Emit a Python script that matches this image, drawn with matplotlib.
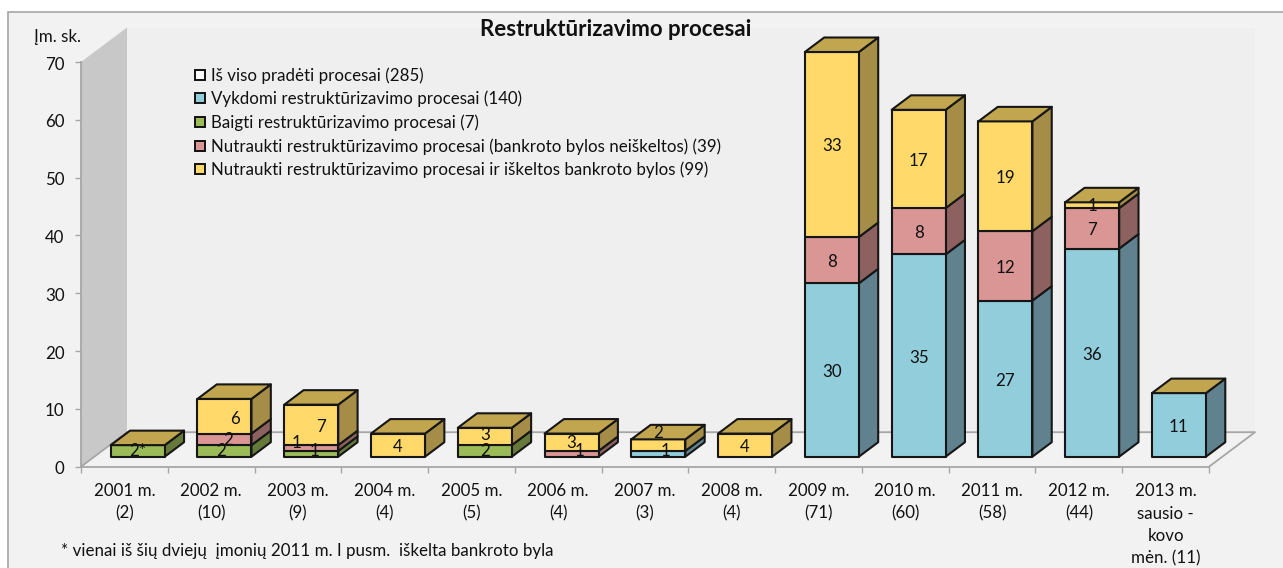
# -*- coding: utf-8 -*-
import matplotlib

matplotlib.use("Agg")
import matplotlib.pyplot as plt
from matplotlib.lines import Line2D
from matplotlib.patches import Polygon, Rectangle
from matplotlib.transforms import ScaledTranslation

YEAR_LABELS = [
    "2001 m.\n(2)", "2002 m.\n(10)", "2003 m.\n(9)", "2004 m.\n(4)", "2005 m.\n(5)",
    "2006 m.\n(4)", "2007 m.\n(3)", "2008 m.\n(4)", "2009 m.\n(71)", "2010 m.\n(60)",
    "2011 m.\n(58)", "2012 m.\n(44)", "2013 m.\nsausio -\nkovo\nmėn. (11)",
]
ONGOING = [0, 0, 0, 0, 0, 0, 1, 0, 30, 35, 27, 36, 11]
FINISHED = [2, 2, 1, 0, 2, 0, 0, 0, 0, 0, 0, 0, 0]
STOPPED = [0, 2, 1, 0, 0, 1, 0, 0, 8, 8, 12, 7, 0]
BANKRUPT = [0, 6, 7, 4, 3, 3, 2, 4, 33, 17, 19, 1, 0]
LEGEND_LABELS = [
    "Iš viso pradėti procesai (285)",
    "Vykdomi restruktūrizavimo procesai (140)",
    "Baigti restruktūrizavimo procesai (7)",
    "Nutraukti restruktūrizavimo procesai (bankroto bylos neiškeltos) (39)",
    "Nutraukti restruktūrizavimo procesai ir iškeltos bankroto bylos (99)",
]

SERIES = [ONGOING, FINISHED, STOPPED, BANKRUPT]
FRONT_COLORS = ["#92CDDC", "#9BBB59", "#D99694", "#FFD96A"]
SIDE_COLORS = ["#5F828E", "#64793A", "#8D6160", "#A58D47"]
LEGEND_COLORS = ["#FFFFFF"] + FRONT_COLORS
TOP_COLOR = "#C1A64F"
EDGE = "#161616"
AXIS_GRAY = "#A6A6A6"
FONT_SIZE = 12.2

W, H = 1283, 568
LEFT, RIGHT, TOP, BOTTOM = 81, 1209, 62, 466.7
Y_MAX = 70
CAT_PX = (RIGHT - LEFT) / len(YEAR_LABELS)
PX_Y = (BOTTOM - TOP) / Y_MAX
# full depth of the chart box, in data units
DEPTH_X = 46 / CAT_PX
DEPTH_Y = 34.5 / PX_Y
BAR_WIDTH = 54 / CAT_PX
BAR_D0, BAR_D1 = 0.29, 0.71

# hand placed labels in the original: (bar, series) -> pixel shift
LABEL_SHIFT = {
    (0, 1): (0, -2),
    (1, 1): (-3, -2), (1, 2): (4, -1), (1, 3): (11, 1),
    (2, 1): (3, -5), (2, 2): (-15, -7), (2, 3): (10, 0),
    (4, 1): (0, -2), (4, 3): (0, -3),
    (5, 2): (8, -5), (5, 3): (0, -1),
    (6, 0): (7, -5), (6, 3): (0, -14),
    (11, 3): (0, -1),
}


def project(x, y, d):
    return (x + d * DEPTH_X, y + d * DEPTH_Y)


def add_poly(ax, points, color, edge=EDGE, lw=1.5, zorder=3):
    ax.add_patch(Polygon(points, closed=True, facecolor=color, edgecolor=edge,
                         linewidth=lw, joinstyle="round", clip_on=False, zorder=zorder))


def draw_box(ax):
    # back wall, left wall and floor of the 3D chart box
    add_poly(ax, [project(0, 0, 1), project(13, 0, 1), project(13, Y_MAX, 1), project(0, Y_MAX, 1)],
             "#EFEFEF", edge="none", lw=0, zorder=0.5)
    add_poly(ax, [project(0, 0, 0), project(0, 0, 1), project(0, Y_MAX, 1), project(0, Y_MAX, 0)],
             "#C8C8C8", edge="none", lw=0, zorder=1)
    add_poly(ax, [project(0, 0, 0), project(13, 0, 0), project(13, 0, 1), project(0, 0, 1)],
             "#F2F2F2", edge="none", lw=0, zorder=1)
    xs, ys = zip(project(0, 0, 0), project(0, 0, 1), project(13, 0, 1), project(13, 0, 0))
    ax.plot(xs, ys, color=AXIS_GRAY, lw=1.3, clip_on=False, zorder=1.5)


def draw_stack(ax, i):
    x0 = i + 0.5 - BAR_WIDTH / 2
    x1 = x0 + BAR_WIDTH
    base = 0
    top = 0
    for j, values in enumerate(SERIES):
        value = values[i]
        if value == 0:
            continue
        top = min(base + value, Y_MAX)
        add_poly(ax, [project(x1, base, BAR_D0), project(x1, base, BAR_D1),
                      project(x1, top, BAR_D1), project(x1, top, BAR_D0)], SIDE_COLORS[j])
        add_poly(ax, [project(x0, base, BAR_D0), project(x1, base, BAR_D0),
                      project(x1, top, BAR_D0), project(x0, top, BAR_D0)], FRONT_COLORS[j])
        label = "2*" if i == 0 else str(value)
        cx, cy = project((x0 + x1) / 2, (base + top) / 2, BAR_D0)
        dx, dy = LABEL_SHIFT.get((i, j), (0, 0))
        ax.annotate(label, (cx, cy), xytext=(dx * 0.72, -(dy + 2) * 0.72), textcoords="offset points",
                    ha="center", va="center", fontsize=FONT_SIZE, color="#111111", zorder=5,
                    annotation_clip=False)
        base = top
    add_poly(ax, [project(x0, top, BAR_D0), project(x1, top, BAR_D0),
                  project(x1, top, BAR_D1), project(x0, top, BAR_D1)], TOP_COLOR)


def main():
    plt.rcParams["font.family"] = ["Lato", "DejaVu Sans"]
    fig = plt.figure(figsize=(W / 100, H / 100), dpi=100, facecolor="white")

    # panel background with its grey border, cut off by the image at bottom and right
    fig.add_artist(Rectangle((8 / W, -0.02), 1.02, 1.02 - 12 / H, transform=fig.transFigure,
                             facecolor="#F2F2F2", edgecolor="#A6A6A6", linewidth=1.2, zorder=-1))

    ax = fig.add_axes([LEFT / W, 1 - BOTTOM / H, (RIGHT - LEFT) / W, (BOTTOM - TOP) / H])
    ax.patch.set_visible(False)
    ax.set_xlim(0, len(YEAR_LABELS))
    ax.set_ylim(0, Y_MAX)

    draw_box(ax)
    for i in range(len(YEAR_LABELS)):
        draw_stack(ax, i)

    ax.spines[["top", "right"]].set_visible(False)
    ax.spines[["left", "bottom"]].set_color(AXIS_GRAY)
    ax.spines[["left", "bottom"]].set_linewidth(1.3)
    ax.spines[["left", "bottom"]].set_zorder(2)

    ax.set_yticks(range(0, Y_MAX + 1, 10))
    ax.tick_params(axis="y", length=4.3, width=1, color=AXIS_GRAY, pad=7.5, labelsize=FONT_SIZE, labelcolor="#111111")
    for label in ax.get_yticklabels():
        label.set_transform(label.get_transform() + ScaledTranslation(0, -1 / 100, fig.dpi_scale_trans))
    ax.set_xticks([i + 0.5 for i in range(len(YEAR_LABELS))])
    ax.set_xticklabels(YEAR_LABELS, linespacing=1.48, fontsize=FONT_SIZE, color="#111111")
    ax.set_xticks(range(len(YEAR_LABELS) + 1), minor=True)
    ax.tick_params(axis="x", which="major", length=0, pad=12)
    ax.tick_params(axis="x", which="minor", length=4.3, width=1, color=AXIS_GRAY)

    handles = [
        Line2D([], [], linestyle="none", marker="s", markersize=7.6, markerfacecolor=color,
               markeredgecolor="#111111", markeredgewidth=1.4)
        for color in LEGEND_COLORS
    ]
    ax.legend(handles, LEGEND_LABELS, frameon=False, fontsize=FONT_SIZE, labelcolor="#111111",
              loc="upper left", bbox_to_anchor=((192 - LEFT) / (RIGHT - LEFT), (BOTTOM - 67) / (BOTTOM - TOP)),
              borderaxespad=0, borderpad=0, handlelength=0.9, handletextpad=0.2, labelspacing=0.42)

    fig.text(616 / W, 1 - 30 / H, "Restruktūrizavimo procesai", ha="center", va="center",
             fontsize=16, fontweight="bold", color="#111111")
    fig.text(57 / W, 1 - 37 / H, "Įm. sk.", ha="center", va="center", fontsize=FONT_SIZE, color="#111111")
    fig.text(61 / W, 1 - 551 / H, "* vienai iš šių dviejų  įmonių 2011 m. I pusm.  iškelta bankroto byla",
             ha="left", va="center", fontsize=FONT_SIZE, color="#111111")

    fig.savefig("out.png", dpi=100, facecolor="white")
    plt.close(fig)


if __name__ == "__main__":
    main()
